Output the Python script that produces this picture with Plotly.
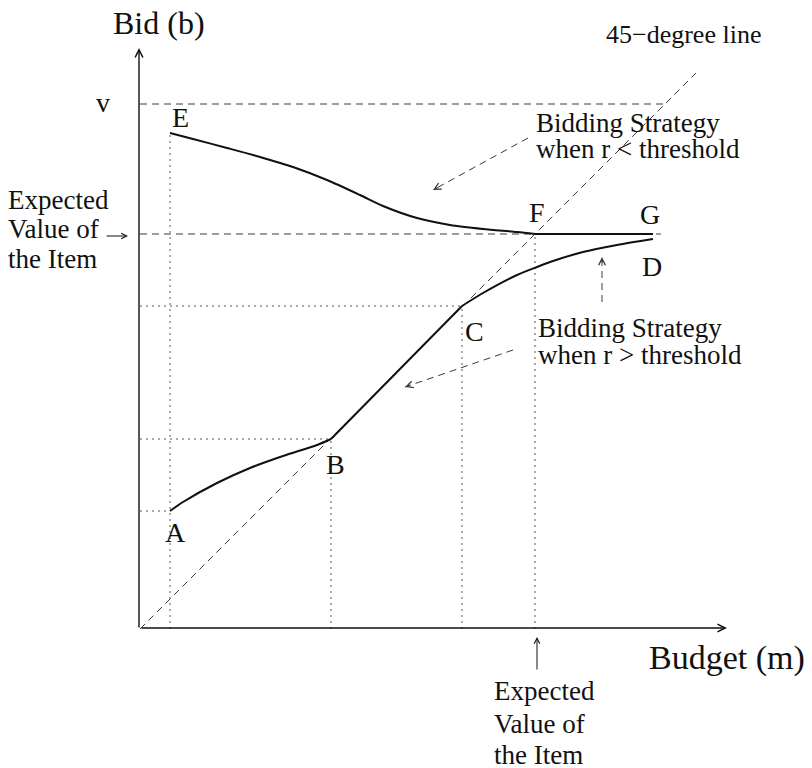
import plotly.graph_objects as go

# ---- values (budget m on x, bid b on y, same units on both axes) ----
ev = 3.95          # expected value of the item
v_item = 5.25      # value v of the item
diag_end = 5.56    # extent of the 45-degree reference line

# strategy when r > threshold: A -> B (curve), B -> C (on the diagonal), C -> D (curve)
ab_m = [0.30, 0.43, 0.77, 1.10, 1.43, 1.77, 1.91]
ab_b = [1.18, 1.27, 1.46, 1.61, 1.73, 1.84, 1.90]
bc_m = [1.91, 3.22]
bc_b = [1.90, 3.23]
cd_m = [3.22, 3.43, 3.77, 3.97, 4.10, 4.43, 4.77, 5.13]
cd_b = [3.23, 3.36, 3.54, 3.62, 3.67, 3.77, 3.84, 3.90]

# strategy when r < threshold: E -> F (curve), F -> G (flat at expected value)
ef_m = [0.30, 0.53, 0.87, 1.20, 1.53, 1.87, 2.20, 2.43, 2.77, 3.10, 3.43, 3.77, 3.95]
ef_b = [4.96, 4.90, 4.81, 4.72, 4.62, 4.49, 4.34, 4.23, 4.11, 4.04, 4.00, 3.97, 3.95]
fg_m = [3.95, 5.13]
fg_b = [3.95, 3.95]

FONT = "Liberation Serif, Times New Roman, serif"
INK = "#111111"
DASH_C = "#3a3a3a"
DOT_C = "#555555"

fig = go.Figure()


def seg(xs, ys, color=INK, width=2.0, dash="solid", shape="linear"):
    fig.add_trace(go.Scatter(x=xs, y=ys, mode="lines", hoverinfo="skip",
                             line=dict(color=color, width=width, dash=dash, shape=shape,
                                       smoothing=0.8)))


# dotted guide lines from the key points to the axes
A = (ab_m[0], ab_b[0]); B = (ab_m[-1], ab_b[-1]); C = (cd_m[0], cd_b[0])
E = (ef_m[0], ef_b[0]); F = (ef_m[-1], ef_b[-1])
DOT = "2px,4px"
seg([E[0], E[0]], [0, E[1]], DOT_C, 1, DOT)
seg([0, A[0]], [A[1], A[1]], DOT_C, 1, DOT)
seg([0, B[0]], [B[1], B[1]], DOT_C, 1, DOT)
seg([B[0], B[0]], [0, B[1]], DOT_C, 1, DOT)
seg([0, C[0]], [C[1], C[1]], DOT_C, 1, DOT)
seg([C[0], C[0]], [0, C[1]], DOT_C, 1, DOT)
seg([F[0], F[0]], [0, F[1]], DOT_C, 1, DOT)

# dashed reference lines: 45-degree line, v level, expected-value level
DASH = "7px,5px"
seg([0, diag_end], [0, diag_end], DASH_C, 1, DASH)
seg([0, v_item], [v_item, v_item], DASH_C, 1, DASH)
seg([0, 5.21], [ev, ev], DASH_C, 1, DASH)

# the two bidding strategies
seg(ab_m, ab_b, shape="spline")
seg(bc_m, bc_b)
seg(cd_m, cd_b, shape="spline")
seg(ef_m, ef_b, shape="spline")
seg(fg_m, fg_b)

annotations = []


def arrow(x0, y0, x1, y1, dashed=False, color=INK, width=1.2):
    """Arrow from (x0, y0) to (x1, y1); dashed arrows get a dashed shaft."""
    if dashed:
        seg([x0, x1], [y0, y1], DASH_C, 1, DASH)
        dx, dy = x0 - x1, y0 - y1
        n = (dx * dx + dy * dy) ** 0.5
        tx, ty = x1 + 0.07 * dx / n, y1 + 0.07 * dy / n
    else:
        tx, ty = x0, y0
    annotations.append(dict(x=x1, y=y1, ax=tx, ay=ty, xref="x", yref="y",
                            axref="x", ayref="y", text="", showarrow=True,
                            arrowhead=5, arrowsize=1.1, arrowwidth=width,
                            arrowcolor=color if not dashed else DASH_C))


# axes
arrow(-0.01, 0, -0.01, 5.81, width=1.4)
arrow(0, 0.01, 5.87, 0.01, width=1.4)

# pointers to the curves and to the expected-value levels
arrow(3.88, 4.91, 2.93, 4.39, dashed=True)
arrow(3.73, 2.79, 2.65, 2.42, dashed=True)
arrow(4.62, 3.27, 4.62, 3.72, dashed=True)
arrow(-0.35, 3.93, -0.12, 3.93, width=1)
arrow(3.97, -0.42, 3.97, -0.08, width=1)


def text(x, y, s, size, xanchor="center"):
    annotations.append(dict(x=x, y=y, xref="x", yref="y", text=s, showarrow=False,
                            xanchor=xanchor, yanchor="middle", borderpad=0,
                            font=dict(family=FONT, size=size, color=INK)))


text(0.19, 6.06, "Bid (b)", 32)
text(5.08, -0.29, "Budget (m)", 34, "left")
text(-0.37, 5.27, "v", 28)
text(5.43, 5.95, "45\u2212degree line", 26)

# point labels
text(0.40, 5.12, "E", 28)
text(3.97, 4.17, "F", 28)
text(5.10, 4.15, "G", 28)
text(5.12, 3.63, "D", 28)
text(3.34, 2.98, "C", 28)
text(1.95, 1.65, "B", 28)
text(0.35, 0.97, "A", 28)

# strategy captions
text(3.95, 5.06, "Bidding Strategy", 27, "left")
text(3.95, 4.80, "when r &lt; threshold", 27, "left")
text(3.97, 3.01, "Bidding Strategy", 27, "left")
text(3.97, 2.74, "when r &gt; threshold", 27, "left")

# expected-value captions
for s, y in zip(["Expected", "Value of", "the Item"], [4.29, 4.00, 3.70]):
    text(-1.33, y, s, 27, "left")
for s, y in zip(["Expected", "Value of", "the Item"], [-0.62, -0.95, -1.26]):
    text(3.53, y, s, 27, "left")

fig.update_layout(
    width=812, height=768,
    margin=dict(l=0, r=0, t=0, b=0),
    paper_bgcolor="white", plot_bgcolor="white",
    showlegend=False,
    xaxis=dict(range=[-1.40, 6.72], visible=False, fixedrange=True),
    yaxis=dict(range=[-1.39, 6.29], visible=False, fixedrange=True),
    annotations=annotations,
)

fig.write_html("out.html")
